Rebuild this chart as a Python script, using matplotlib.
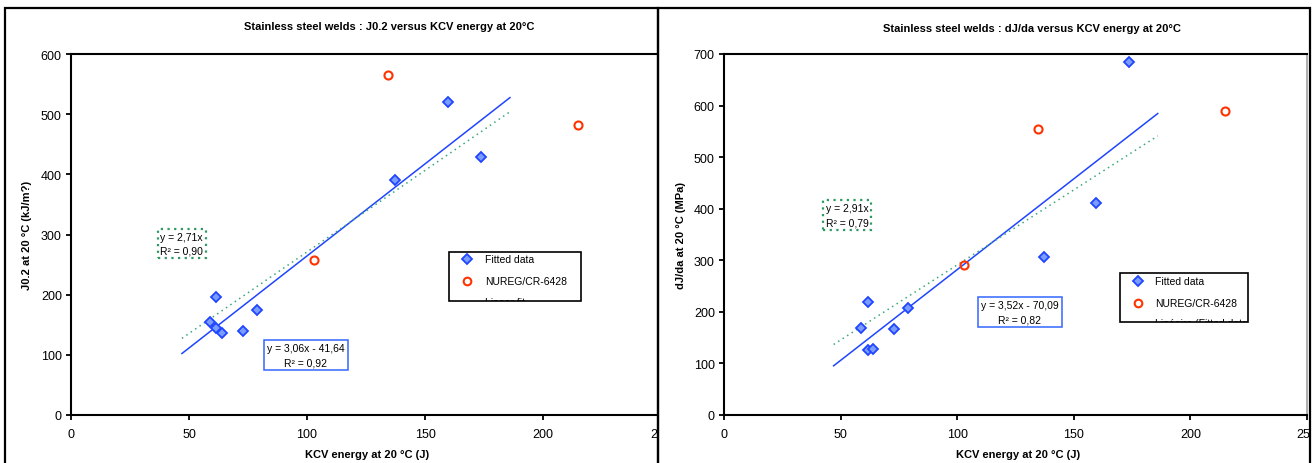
import matplotlib
matplotlib.use('Agg')
import matplotlib.pyplot as plt
from matplotlib.patches import Rectangle
from matplotlib.lines import Line2D
from matplotlib.transforms import Bbox, TransformedBbox
import numpy as np

plt.rcParams['font.family'] = ['Liberation Sans', 'DejaVu Sans']

# data
kcv_fit = [58.7, 61.6, 61.6, 63.9, 72.8, 78.8, 137.2, 159.7, 173.7]
j02_fit = [154.8, 196.9, 143.8, 136.6, 139.4, 174.2, 391.0, 519.8, 428.0]
djda_fit = [168.7, 219.0, 126.0, 128.6, 166.8, 208.0, 307.0, 411.0, 685.0]

kcv_nureg = [102.8, 134.5, 215.0]
j02_nureg = [257.0, 565.7, 482.8]
djda_nureg = [291.5, 555.0, 590.0]

# trend lines (from the equations on the chart)
trend_x = [47, 186]
j02_lin = (3.06, -41.64)
j02_zero = 2.71
djda_lin = (3.52, -70.09)
djda_zero = 2.91

x_ticks = [0, 50, 100, 150, 200, 250]
j02_ticks = [0, 100, 200, 300, 400, 500, 600]
djda_ticks = [0, 100, 200, 300, 400, 500, 600, 700]

BLUE = '#1f45ff'
BLUE_FILL = '#7a9cff'
RED = '#ff3300'
GREEN = '#3aa878'

W, H = 1314, 464
fig = plt.figure(figsize=(W / 100, H / 100), dpi=100)


def px_axes(l, r, t, b):
    return [l / W, 1 - b / H, (r - l) / W, (b - t) / H]


def fake_legend(ax, box, marker_x, text_x, rows, third):
    x0, y0, w, h = box
    rect = Rectangle((x0, y0), w, h, transform=ax.transAxes, facecolor='white',
                     edgecolor='black', lw=1.2, zorder=6, clip_on=False)
    ax.add_patch(rect)
    ax.plot([marker_x], [rows[0]], 'D', ms=5.3, mfc=BLUE_FILL, mec=BLUE, mew=1.3,
            transform=ax.transAxes, zorder=7, clip_on=False)
    ax.text(text_x, rows[0], 'Fitted data', transform=ax.transAxes, fontsize=7.5,
            va='center', ha='left', zorder=7)
    ax.plot([marker_x], [rows[1]], 'o', ms=5.5, mfc='white', mec=RED, mew=1.5,
            transform=ax.transAxes, zorder=7, clip_on=False)
    ax.text(text_x, rows[1], 'NUREG/CR-6428', transform=ax.transAxes, fontsize=7.5,
            va='center', ha='left', zorder=7)
    # third entry is cut by the legend frame, as in the original
    cbox = TransformedBbox(Bbox([[x0, y0], [x0 + w, y0 + h]]), ax.transAxes)
    t = ax.text(text_x, rows[2], third, transform=ax.transAxes, fontsize=7.5,
                va='center', ha='left', zorder=7, clip_on=True)
    t.set_clip_box(cbox)
    t.set_clip_path(None)
    ln = Line2D([marker_x - 0.02, marker_x + 0.02], [rows[2], rows[2]],
                transform=ax.transAxes, color=BLUE, lw=1, zorder=7)
    ax.add_line(ln)
    ln.set_clip_path(rect)


def draw_panel(ax, kf, yf, kn, yn, lin, zero, yticks, ylabel, eq_zero, eq_lin,
               pos_zero, pos_lin, leg_box, leg_mx, leg_tx, leg_rows, third):
    ax.set_xlim(0, 250)
    ax.set_ylim(yticks[0], yticks[-1])
    ax.set_xticks(x_ticks)
    ax.set_yticks(yticks)
    ax.tick_params(direction='out', length=3.6, width=1.3, labelsize=9, colors='black')
    ax.tick_params(axis='x', pad=6)
    ax.tick_params(axis='y', pad=3)
    for s in ['left', 'bottom', 'top']:
        ax.spines[s].set_linewidth(1.5)
        ax.spines[s].set_color('black')
    ax.spines['right'].set_color('#a0a0a0')
    ax.spines['right'].set_linewidth(1.2)

    tx = np.array(trend_x, dtype=float)
    ax.plot(tx, lin[0] * tx + lin[1], color=BLUE, lw=1.1, zorder=3)
    ax.plot(tx, zero * tx, color=GREEN, lw=1.1, ls=(0, (1, 2.5)), zorder=3)

    ax.plot(kf, yf, 'D', ms=5.3, mfc=BLUE_FILL, mec=BLUE, mew=1.3, ls='none', zorder=4)
    ax.plot(kn, yn, 'o', ms=5.8, mfc='none', mec=RED, mew=1.5, ls='none', zorder=4)

    ax.text(pos_zero[0], pos_zero[1], eq_zero, transform=ax.transAxes, fontsize=7.5,
            ha='center', va='center', multialignment='left', linespacing=1.5,
            bbox=dict(boxstyle='square,pad=0.25', fc='white', ec='#2e9963',
                      lw=1.6, ls=(0, (1, 2))), zorder=5)
    ax.text(pos_lin[0], pos_lin[1], eq_lin, transform=ax.transAxes, fontsize=7.5,
            ha='center', va='center', multialignment='center', linespacing=1.5,
            bbox=dict(boxstyle='square,pad=0.3', fc='white', ec='#3366ff', lw=1.1),
            zorder=5)

    ax.set_xlabel('KCV energy at 20 °C (J)', fontsize=8, fontweight='bold', va='center')
    ax.set_ylabel(ylabel, fontsize=8, fontweight='bold', va='center')
    fake_legend(ax, leg_box, leg_mx, leg_tx, leg_rows, third)


ax1 = fig.add_axes(px_axes(71, 661, 55, 416), zorder=1)
ax2 = fig.add_axes(px_axes(724, 1307, 55, 416), zorder=3)

draw_panel(ax1, kcv_fit, j02_fit, kcv_nureg, j02_nureg, j02_lin, j02_zero,
           j02_ticks, 'J0.2 at 20 °C (kJ/m?)',
           'y = 2,71x\nR² = 0,90', 'y = 3,06x - 41,64\nR² = 0,92',
           (0.188, 0.475), (0.398, 0.166),
           (0.6407, 0.3158, 0.2237, 0.1357), 0.672, 0.7017,
           (0.4321, 0.3712, 0.3125), 'Linear fit')
draw_panel(ax2, kcv_fit, djda_fit, kcv_nureg, djda_nureg, djda_lin, djda_zero,
           djda_ticks, 'dJ/da at 20 °C (MPa)',
           'y = 2,91x\nR² = 0,79', 'y = 3,52x - 70,09\nR² = 0,82',
           (0.211, 0.554), (0.5077, 0.2853),
           (0.6792, 0.2576, 0.2196, 0.1358), 0.7101, 0.7393,
           (0.3712, 0.3116, 0.2545), 'Linéaire (Fitted data)')

ax1.xaxis.set_label_coords(0.502, -0.108)
ax1.yaxis.set_label_coords(-0.075, 0.5)
ax2.xaxis.set_label_coords(0.504, -0.108)
ax2.yaxis.set_label_coords(-0.0735, 0.5)

# white cover for the right panel so the clipped left axis stops at the border
fig.patches.append(Rectangle((658 / W, 0), (W - 658) / W, 1, transform=fig.transFigure,
                             facecolor='white', edgecolor='none', zorder=2))
fig.patches.append(Rectangle((1311 / W, 0), 3 / W, 1, transform=fig.transFigure,
                             facecolor='white', edgecolor='none', zorder=4))

# panel frames
for l, r in [(5, 658), (658, 1310)]:
    fig.patches.append(Rectangle((l / W, -0.05), (r - l) / W, 1.05 - 8.5 / H,
                                 transform=fig.transFigure, facecolor='none',
                                 edgecolor='black', lw=1.6, zorder=5))

fig.text(389 / W, 1 - 27 / H, 'Stainless steel welds : J0.2 versus KCV energy at 20°C',
         fontsize=8, fontweight='bold', ha='center', va='center')
fig.text(1032 / W, 1 - 29 / H, 'Stainless steel welds : dJ/da versus KCV energy at 20°C',
         fontsize=8, fontweight='bold', ha='center', va='center', zorder=6)

fig.savefig('out.png', dpi=100)
